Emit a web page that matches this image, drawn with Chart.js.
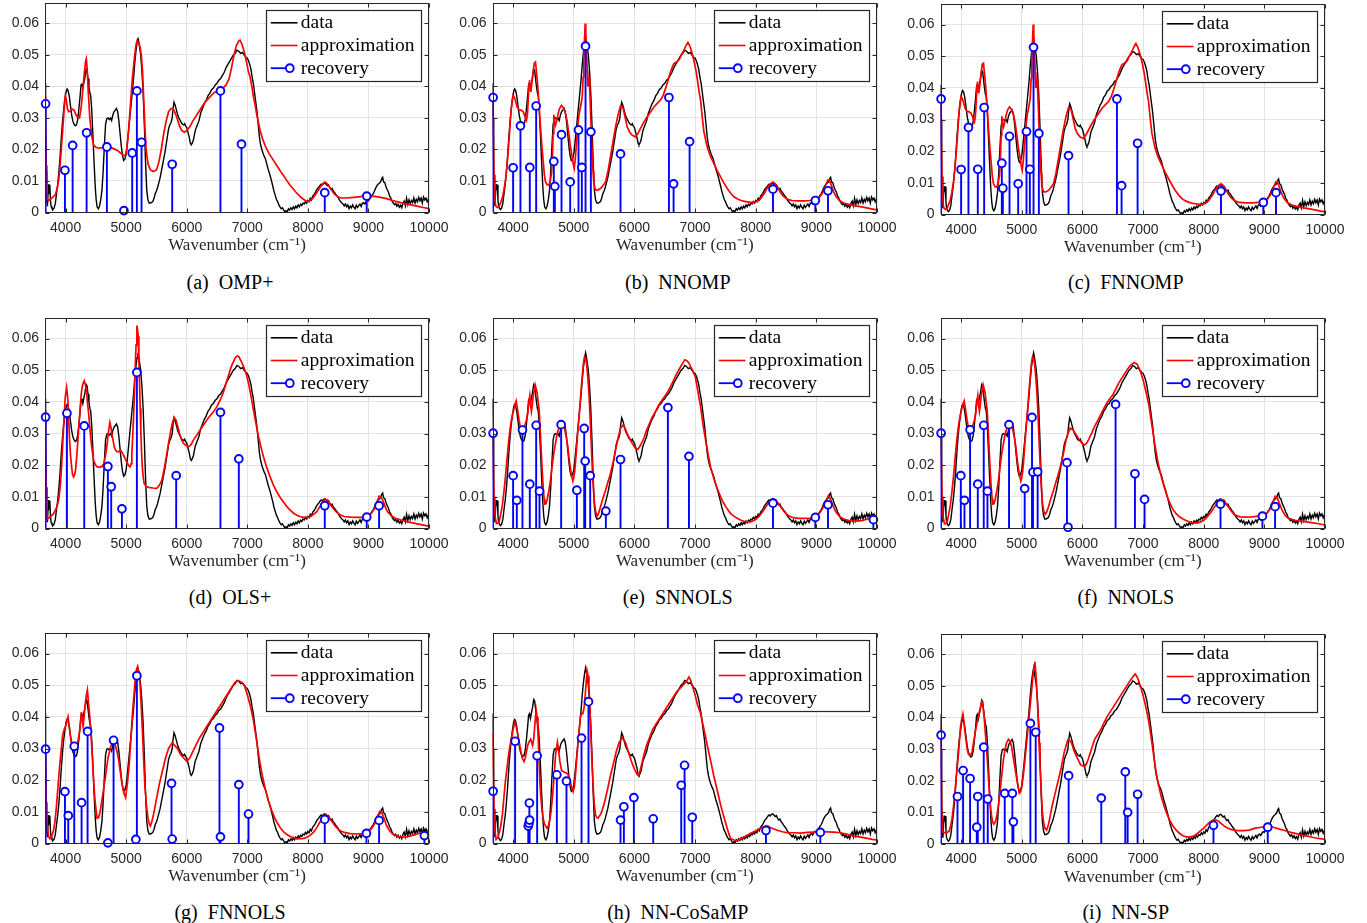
<!DOCTYPE html>
<html><head><meta charset="utf-8">
<script src="https://cdn.jsdelivr.net/npm/chart.js@4.4.0/dist/chart.umd.min.js"></script>
<style>
html,body{margin:0;padding:0;background:#fff;}
body{width:1367px;height:923px;position:relative;overflow:hidden;}
canvas{position:absolute;}
.cap{position:absolute;font-family:"Liberation Serif","Times New Roman",serif;font-size:20px;color:#000;white-space:pre;transform:translate(-50%,-50%);line-height:1;}
</style></head><body>
<script>
// ---------------- data ----------------
const xTicks = [4000,5000,6000,7000,8000,9000,10000];
const xTickLabels = ['4000','5000','6000','7000','8000','9000','10000'];
const yTicks = [0,0.01,0.02,0.03,0.04,0.05,0.06];
const yTickLabels = ['0','0.01','0.02','0.03','0.04','0.05','0.06'];
const xRange = [3660,10000];
const yRange = [0,0.0665];
const legendLabels = ['data','approximation','recovery'];
const xAxisTitle = 'Wavenumber (cm\u207B\u00B9)';
const panelCaptions = ['(a)  OMP+','(b)  NNOMP','(c)  FNNOMP','(d)  OLS+','(e)  SNNOLS','(f)  NNOLS','(g)  FNNOLS','(h)  NN-CoSaMP','(i)  NN-SP'];

const dataSpectrum = [[3660,0.041],[3670,0.030],[3680,0.013],[3690,0.004],[3700,0.002],[3710,0.006],[3720,0.009],[3730,0.0072],[3740,0.0088],[3750,0.004],[3760,0.002],[3775,0.0013],[3790,0.0009],[3810,0.0014],[3830,0.0028],[3850,0.006],[3870,0.009],[3890,0.013],[3910,0.018],[3930,0.024],[3950,0.029],[3970,0.033],[3990,0.036],[4010,0.0385],[4025,0.0392],[4040,0.0388],[4060,0.037],[4080,0.034],[4100,0.031],[4120,0.029],[4140,0.028],[4160,0.0275],[4180,0.0278],[4200,0.0295],[4220,0.033],[4240,0.037],[4255,0.0405],[4270,0.041],[4285,0.0395],[4300,0.041],[4320,0.043],[4340,0.0455],[4355,0.045],[4370,0.0425],[4385,0.040],[4400,0.038],[4415,0.037],[4430,0.033],[4450,0.025],[4470,0.016],[4490,0.008],[4505,0.004],[4520,0.0018],[4540,0.0012],[4560,0.002],[4580,0.004],[4600,0.007],[4620,0.013],[4640,0.021],[4660,0.028],[4680,0.0298],[4700,0.030],[4720,0.0295],[4740,0.030],[4760,0.0292],[4780,0.031],[4800,0.032],[4820,0.0325],[4840,0.033],[4860,0.032],[4880,0.029],[4900,0.025],[4920,0.021],[4940,0.018],[4960,0.0165],[4980,0.017],[5000,0.0185],[5020,0.022],[5040,0.026],[5060,0.030],[5080,0.034],[5100,0.038],[5120,0.042],[5140,0.047],[5160,0.051],[5180,0.054],[5195,0.0555],[5210,0.054],[5225,0.052],[5240,0.050],[5260,0.045],[5280,0.038],[5300,0.028],[5320,0.016],[5340,0.007],[5360,0.004],[5380,0.003],[5400,0.003],[5420,0.0032],[5440,0.0035],[5460,0.0045],[5480,0.006],[5500,0.0068],[5520,0.008],[5540,0.0095],[5560,0.011],[5580,0.013],[5600,0.015],[5620,0.017],[5640,0.019],[5660,0.0215],[5680,0.024],[5700,0.0265],[5720,0.0278],[5740,0.0285],[5760,0.030],[5775,0.033],[5790,0.035],[5810,0.034],[5830,0.0325],[5850,0.031],[5870,0.030],[5890,0.0293],[5910,0.0285],[5930,0.028],[5950,0.0278],[5965,0.0282],[5980,0.0275],[6000,0.027],[6020,0.0255],[6040,0.024],[6060,0.022],[6075,0.0215],[6090,0.022],[6110,0.023],[6140,0.026],[6170,0.0275],[6200,0.029],[6230,0.0315],[6260,0.033],[6290,0.0345],[6320,0.0355],[6350,0.037],[6380,0.0378],[6410,0.039],[6440,0.0395],[6470,0.0405],[6500,0.041],[6530,0.042],[6560,0.0425],[6590,0.0435],[6620,0.0445],[6650,0.046],[6680,0.047],[6710,0.048],[6740,0.049],[6770,0.050],[6800,0.0505],[6830,0.0515],[6860,0.0512],[6890,0.0505],[6920,0.0508],[6950,0.050],[6980,0.0492],[7000,0.049],[7020,0.0482],[7040,0.047],[7060,0.0455],[7080,0.043],[7100,0.041],[7120,0.038],[7140,0.035],[7160,0.032],[7180,0.028],[7200,0.024],[7220,0.0215],[7240,0.020],[7260,0.0188],[7280,0.0178],[7300,0.017],[7320,0.0155],[7340,0.014],[7360,0.0128],[7380,0.0115],[7400,0.010],[7420,0.0085],[7440,0.0068],[7460,0.0055],[7480,0.0042],[7500,0.0035],[7520,0.0025],[7540,0.0018],[7560,0.0012],[7580,0.0015],[7600,0.0008],[7620,0.0002],[7640,0.0006],[7660,0.0003],[7680,0.0012],[7700,0.0008],[7720,0.0015],[7740,0.001],[7760,0.0018],[7780,0.0012],[7800,0.002],[7820,0.0015],[7840,0.0024],[7860,0.0018],[7880,0.0026],[7900,0.0022],[7920,0.003],[7940,0.0027],[7960,0.0035],[7980,0.003],[8000,0.0038],[8020,0.0034],[8040,0.0045],[8060,0.004],[8080,0.0052],[8100,0.0056],[8120,0.0062],[8140,0.007],[8160,0.0076],[8180,0.008],[8200,0.0086],[8220,0.009],[8240,0.0087],[8260,0.0092],[8280,0.0094],[8300,0.009],[8320,0.0085],[8340,0.0088],[8360,0.008],[8380,0.0074],[8400,0.0077],[8420,0.0068],[8440,0.0064],[8460,0.0058],[8480,0.0053],[8500,0.0048],[8520,0.004],[8540,0.0035],[8560,0.003],[8580,0.0027],[8600,0.0021],[8620,0.0027],[8640,0.0018],[8660,0.0024],[8680,0.0012],[8700,0.002],[8720,0.0015],[8740,0.0024],[8760,0.0017],[8780,0.0012],[8800,0.0023],[8820,0.0016],[8840,0.0022],[8860,0.0027],[8880,0.0019],[8900,0.0029],[8920,0.0031],[8940,0.0027],[8960,0.0034],[8980,0.0039],[9000,0.0037],[9020,0.0044],[9040,0.0048],[9060,0.0054],[9080,0.006],[9100,0.0068],[9120,0.0078],[9140,0.0085],[9160,0.009],[9180,0.0093],[9200,0.0097],[9220,0.0108],[9235,0.0112],[9250,0.0097],[9270,0.0095],[9290,0.0082],[9310,0.0072],[9330,0.0065],[9350,0.0052],[9370,0.0046],[9390,0.0036],[9410,0.003],[9430,0.0025],[9450,0.0029],[9470,0.002],[9490,0.0026],[9510,0.0017],[9530,0.0023],[9550,0.0015],[9570,0.0029],[9590,0.0036],[9610,0.0021],[9630,0.0045],[9650,0.0025],[9670,0.004],[9690,0.0028],[9710,0.0038],[9730,0.0031],[9750,0.0046],[9770,0.003],[9790,0.0042],[9810,0.0034],[9830,0.0048],[9850,0.0037],[9870,0.0046],[9890,0.003],[9910,0.0049],[9930,0.004],[9950,0.0046],[9970,0.0034],[9990,0.0043],[10000,0.003]];

const approxOMPplus = [[3660,0.037],[3668,0.028],[3678,0.015],[3690,0.0065],[3700,0.0042],[3720,0.0038],[3770,0.0045],[3830,0.0056],[3860,0.0075],[3885,0.010],[3910,0.015],[3940,0.023],[3970,0.031],[3985,0.0355],[3995,0.037],[4010,0.036],[4030,0.033],[4050,0.032],[4080,0.0322],[4110,0.0328],[4140,0.0325],[4170,0.031],[4200,0.0302],[4230,0.030],[4255,0.033],[4280,0.038],[4310,0.0445],[4330,0.048],[4342,0.0488],[4355,0.046],[4375,0.038],[4400,0.030],[4430,0.0245],[4460,0.0215],[4500,0.0207],[4550,0.0204],[4600,0.0206],[4650,0.0209],[4700,0.021],[4750,0.0206],[4800,0.0202],[4850,0.0198],[4900,0.019],[4950,0.0182],[4985,0.018],[5010,0.020],[5040,0.026],[5070,0.034],[5100,0.042],[5130,0.048],[5160,0.053],[5180,0.0545],[5205,0.054],[5230,0.0525],[5250,0.050],[5270,0.045],[5290,0.036],[5310,0.027],[5330,0.020],[5360,0.0155],[5400,0.0135],[5450,0.013],[5500,0.0135],[5540,0.016],[5580,0.020],[5620,0.025],[5660,0.029],[5700,0.032],[5740,0.033],[5770,0.033],[5800,0.032],[5840,0.030],[5880,0.0275],[5920,0.026],[5960,0.0255],[6000,0.026],[6050,0.0272],[6100,0.029],[6150,0.0305],[6200,0.032],[6250,0.0335],[6300,0.035],[6350,0.036],[6400,0.037],[6450,0.038],[6500,0.0385],[6550,0.0388],[6600,0.0395],[6650,0.0405],[6700,0.0425],[6740,0.046],[6780,0.050],[6820,0.053],[6860,0.0545],[6880,0.0547],[6910,0.0535],[6950,0.051],[6990,0.0475],[7020,0.0445],[7047,0.043],[7075,0.040],[7102,0.0367],[7130,0.034],[7157,0.031],[7185,0.0285],[7212,0.026],[7250,0.0235],[7300,0.021],[7350,0.019],[7400,0.0175],[7450,0.016],[7500,0.0145],[7550,0.013],[7600,0.0117],[7650,0.0102],[7700,0.0088],[7750,0.0077],[7800,0.0065],[7850,0.0055],[7900,0.0046],[7950,0.0039],[7990,0.0035],[8030,0.0037],[8080,0.0045],[8130,0.0058],[8180,0.0073],[8230,0.0088],[8275,0.0096],[8300,0.0095],[8340,0.0086],[8390,0.0071],[8440,0.0058],[8500,0.0049],[8550,0.0046],[8600,0.0046],[8700,0.0047],[8800,0.0049],[8900,0.0051],[9000,0.0052],[9100,0.0051],[9200,0.0048],[9300,0.0044],[9400,0.0038],[9500,0.0033],[9600,0.0028],[9700,0.0024],[9800,0.002],[9900,0.0016],[10000,0.0012]];

const approxNNOMP = [[3660,0.0357],[3670,0.026],[3685,0.012],[3700,0.004],[3712,0.0022],[3740,0.0016],[3764,0.0018],[3790,0.003],[3819,0.0044],[3845,0.0068],[3874,0.0103],[3900,0.015],[3929,0.022],[3950,0.028],[3967,0.0325],[3985,0.0358],[4000,0.0372],[4022,0.0365],[4045,0.035],[4066,0.0335],[4095,0.0327],[4121,0.0325],[4145,0.0323],[4165,0.032],[4195,0.0305],[4220,0.0293],[4235,0.031],[4250,0.036],[4262,0.041],[4270,0.042],[4280,0.0395],[4292,0.0383],[4303,0.040],[4314,0.042],[4330,0.0448],[4350,0.0475],[4369,0.0478],[4388,0.044],[4407,0.040],[4430,0.0335],[4451,0.0272],[4475,0.021],[4495,0.0166],[4515,0.012],[4534,0.0097],[4560,0.0088],[4589,0.0087],[4612,0.010],[4633,0.0124],[4650,0.019],[4660,0.025],[4671,0.031],[4685,0.029],[4699,0.0277],[4718,0.029],[4737,0.031],[4765,0.033],[4798,0.034],[4830,0.0332],[4864,0.0314],[4890,0.029],[4919,0.025],[4945,0.021],[4974,0.0177],[4990,0.0155],[5007,0.014],[5025,0.017],[5040,0.0208],[5060,0.026],[5073,0.0288],[5090,0.0315],[5111,0.0335],[5125,0.035],[5139,0.0367],[5155,0.043],[5166,0.0484],[5178,0.055],[5188,0.060],[5198,0.057],[5210,0.0515],[5222,0.045],[5232,0.040],[5243,0.0415],[5254,0.043],[5265,0.038],[5276,0.0325],[5290,0.025],[5304,0.0187],[5318,0.013],[5331,0.0092],[5350,0.0076],[5370,0.0071],[5400,0.0072],[5441,0.0076],[5480,0.0085],[5524,0.0097],[5565,0.0132],[5606,0.0177],[5650,0.0228],[5689,0.0272],[5730,0.031],[5771,0.0338],[5795,0.0337],[5815,0.033],[5850,0.030],[5881,0.0272],[5920,0.0255],[5964,0.0245],[6019,0.024],[6060,0.0252],[6101,0.0267],[6150,0.0285],[6211,0.0304],[6270,0.032],[6321,0.0335],[6380,0.0347],[6431,0.0357],[6475,0.0372],[6514,0.0394],[6555,0.042],[6596,0.0447],[6625,0.0462],[6651,0.0473],[6690,0.0478],[6734,0.0484],[6775,0.050],[6816,0.0515],[6850,0.053],[6882,0.054],[6910,0.053],[6937,0.0515],[6965,0.0495],[6992,0.0473],[7020,0.0445],[7047,0.041],[7070,0.038],[7091,0.0357],[7120,0.030],[7146,0.0256],[7175,0.023],[7201,0.0208],[7250,0.018],[7311,0.0155],[7365,0.0133],[7421,0.0113],[7475,0.0094],[7531,0.0076],[7585,0.0062],[7641,0.005],[7700,0.0043],[7751,0.0039],[7800,0.0036],[7861,0.0034],[7920,0.0032],[7971,0.0032],[8030,0.0036],[8081,0.0044],[8140,0.006],[8191,0.0078],[8240,0.0091],[8285,0.0097],[8320,0.0092],[8360,0.008],[8400,0.0066],[8450,0.0053],[8500,0.0045],[8550,0.004],[8600,0.0038],[8700,0.0037],[8800,0.0037],[8900,0.0038],[8960,0.004],[9000,0.0042],[9050,0.0048],[9100,0.0062],[9150,0.0085],[9190,0.0103],[9210,0.0104],[9240,0.009],[9280,0.0068],[9320,0.0052],[9380,0.0038],[9450,0.003],[9550,0.0025],[9650,0.0021],[9750,0.0018],[9850,0.0014],[9950,0.001],[10000,0.0008]];

const approxFNNOMP = approxNNOMP;

const approxOLSplus = [[3660,0.0374],[3668,0.027],[3678,0.013],[3692,0.003],[3720,0.0033],[3747,0.0037],[3802,0.0047],[3857,0.0069],[3885,0.009],[3912,0.0132],[3935,0.020],[3956,0.028],[3975,0.035],[3995,0.0417],[4017,0.0445],[4038,0.0406],[4052,0.034],[4066,0.028],[4082,0.023],[4099,0.0195],[4115,0.017],[4132,0.0163],[4148,0.017],[4165,0.0185],[4185,0.023],[4204,0.028],[4222,0.033],[4242,0.0385],[4261,0.043],[4281,0.0454],[4308,0.0467],[4341,0.0443],[4360,0.040],[4380,0.0364],[4400,0.032],[4418,0.028],[4440,0.0245],[4462,0.0216],[4490,0.0202],[4517,0.0195],[4560,0.0193],[4600,0.0196],[4630,0.0205],[4655,0.0227],[4675,0.025],[4693,0.028],[4712,0.031],[4731,0.0335],[4748,0.032],[4764,0.030],[4783,0.028],[4803,0.0258],[4825,0.0248],[4847,0.0243],[4880,0.0243],[4913,0.0246],[4940,0.0238],[4968,0.0227],[4995,0.0215],[5023,0.0206],[5045,0.0198],[5067,0.0195],[5082,0.0205],[5094,0.0237],[5108,0.029],[5122,0.0353],[5137,0.043],[5150,0.0512],[5164,0.058],[5177,0.0641],[5190,0.0625],[5199,0.0607],[5210,0.053],[5221,0.0459],[5232,0.038],[5243,0.030],[5257,0.023],[5270,0.0185],[5284,0.0158],[5298,0.0142],[5330,0.0133],[5369,0.013],[5440,0.0128],[5507,0.0127],[5550,0.0137],[5590,0.0153],[5630,0.019],[5672,0.0237],[5705,0.0275],[5738,0.0311],[5765,0.0335],[5793,0.0351],[5826,0.0341],[5855,0.032],[5881,0.030],[5915,0.028],[5947,0.0269],[5990,0.0262],[6030,0.0258],[6070,0.0265],[6112,0.028],[6165,0.0295],[6222,0.0311],[6275,0.0327],[6332,0.0343],[6385,0.0356],[6442,0.0369],[6500,0.0385],[6552,0.0406],[6595,0.0425],[6634,0.0448],[6675,0.0475],[6717,0.0501],[6745,0.0516],[6772,0.0527],[6795,0.0537],[6816,0.0543],[6840,0.0545],[6860,0.0543],[6900,0.0528],[6937,0.0512],[6980,0.049],[7020,0.0459],[7060,0.042],[7102,0.0374],[7145,0.033],[7185,0.029],[7225,0.0258],[7267,0.0227],[7320,0.0193],[7377,0.0163],[7430,0.0138],[7487,0.0116],[7540,0.0099],[7597,0.0084],[7650,0.007],[7707,0.0058],[7760,0.0049],[7817,0.0042],[7870,0.0038],[7927,0.0035],[7980,0.0035],[8037,0.0037],[8090,0.0044],[8147,0.0053],[8200,0.007],[8250,0.0085],[8285,0.0093],[8320,0.009],[8360,0.008],[8400,0.0068],[8450,0.0056],[8500,0.0047],[8550,0.0042],[8600,0.0038],[8700,0.0036],[8800,0.0035],[8900,0.0035],[8960,0.0037],[9000,0.004],[9050,0.0048],[9100,0.0063],[9140,0.0083],[9175,0.0102],[9200,0.0101],[9240,0.0088],[9280,0.0067],[9320,0.0052],[9380,0.004],[9450,0.0032],[9550,0.0026],[9650,0.0021],[9750,0.0017],[9850,0.0013],[9950,0.0009],[10000,0.0007]];

const approxSNNOLS = [[3660,0.030],[3670,0.022],[3685,0.010],[3700,0.004],[3725,0.0016],[3764,0.0018],[3790,0.004],[3819,0.0069],[3845,0.011],[3874,0.0164],[3900,0.022],[3929,0.028],[3950,0.0315],[3967,0.0338],[3990,0.036],[4011,0.0375],[4030,0.039],[4050,0.0403],[4066,0.0385],[4082,0.0364],[4100,0.034],[4121,0.0317],[4154,0.0306],[4187,0.0322],[4215,0.034],[4242,0.0364],[4260,0.040],[4275,0.042],[4288,0.039],[4302,0.037],[4316,0.039],[4330,0.0417],[4363,0.0454],[4396,0.0428],[4412,0.040],[4429,0.0375],[4445,0.032],[4462,0.0248],[4478,0.019],[4495,0.0132],[4510,0.0095],[4523,0.0077],[4540,0.0078],[4561,0.009],[4590,0.012],[4616,0.0153],[4645,0.020],[4671,0.0238],[4700,0.027],[4726,0.030],[4760,0.032],[4792,0.033],[4820,0.0325],[4847,0.0317],[4875,0.029],[4902,0.0259],[4930,0.021],[4957,0.0174],[4985,0.015],[5000,0.016],[5018,0.0185],[5037,0.023],[5056,0.028],[5078,0.033],[5100,0.0385],[5120,0.0435],[5139,0.048],[5158,0.052],[5177,0.0542],[5195,0.0535],[5210,0.0523],[5227,0.049],[5243,0.0449],[5260,0.039],[5276,0.0322],[5292,0.025],[5309,0.0174],[5325,0.012],[5342,0.0079],[5362,0.0052],[5386,0.0039],[5410,0.0048],[5441,0.0069],[5480,0.0095],[5524,0.0121],[5565,0.0148],[5606,0.0174],[5650,0.021],[5689,0.0248],[5730,0.0285],[5771,0.0317],[5815,0.0327],[5850,0.0315],[5881,0.030],[5920,0.0285],[5964,0.0269],[6010,0.0255],[6057,0.025],[6100,0.0263],[6156,0.0285],[6200,0.031],[6238,0.0327],[6290,0.035],[6349,0.037],[6400,0.039],[6459,0.0407],[6510,0.042],[6552,0.0433],[6600,0.045],[6651,0.047],[6700,0.049],[6750,0.0507],[6790,0.052],[6832,0.0533],[6865,0.053],[6899,0.0523],[6930,0.051],[6954,0.0502],[6980,0.049],[7003,0.048],[7050,0.043],[7091,0.0385],[7130,0.033],[7173,0.028],[7215,0.0235],[7255,0.0195],[7310,0.0158],[7364,0.0127],[7420,0.0101],[7474,0.0079],[7530,0.0062],[7584,0.0048],[7640,0.0039],[7694,0.0032],[7750,0.0027],[7804,0.0023],[7860,0.0021],[7914,0.0021],[7970,0.0025],[8024,0.0032],[8080,0.0044],[8134,0.0058],[8190,0.0075],[8240,0.0088],[8285,0.0094],[8330,0.009],[8370,0.008],[8420,0.0066],[8470,0.0053],[8530,0.0042],[8600,0.0035],[8700,0.0032],[8800,0.0032],[8900,0.0033],[8960,0.0036],[9000,0.004],[9050,0.0048],[9100,0.0062],[9150,0.0085],[9200,0.0104],[9240,0.009],[9280,0.007],[9320,0.0053],[9380,0.0038],[9450,0.003],[9550,0.0024],[9650,0.0023],[9750,0.0025],[9850,0.003],[9950,0.0035],[10000,0.0036]];

const approxNNOLS = [[3660,0.030],[3670,0.022],[3685,0.010],[3700,0.004],[3725,0.0015],[3764,0.0016],[3790,0.004],[3819,0.0069],[3845,0.011],[3874,0.0164],[3900,0.022],[3929,0.028],[3950,0.0315],[3967,0.0338],[3990,0.0362],[4011,0.038],[4030,0.0392],[4050,0.0403],[4066,0.0385],[4082,0.0364],[4100,0.034],[4121,0.0317],[4154,0.0306],[4187,0.0322],[4215,0.034],[4242,0.0364],[4260,0.040],[4275,0.042],[4288,0.039],[4302,0.037],[4316,0.039],[4330,0.0417],[4363,0.0454],[4396,0.0428],[4412,0.040],[4429,0.0375],[4445,0.032],[4462,0.0248],[4478,0.019],[4495,0.0132],[4510,0.0095],[4523,0.0077],[4540,0.0078],[4561,0.009],[4590,0.012],[4616,0.0153],[4645,0.020],[4671,0.0238],[4700,0.027],[4726,0.030],[4760,0.032],[4792,0.033],[4820,0.0325],[4847,0.0317],[4875,0.029],[4902,0.0259],[4930,0.021],[4957,0.0174],[4985,0.015],[5000,0.016],[5018,0.0185],[5037,0.023],[5056,0.028],[5078,0.033],[5100,0.0385],[5120,0.0435],[5139,0.048],[5158,0.052],[5177,0.0542],[5195,0.0535],[5210,0.0523],[5227,0.049],[5243,0.0449],[5260,0.039],[5276,0.0322],[5292,0.025],[5309,0.0174],[5325,0.012],[5342,0.0079],[5362,0.0055],[5386,0.0045],[5410,0.0052],[5441,0.0069],[5480,0.0095],[5524,0.0121],[5565,0.0148],[5606,0.0174],[5650,0.0205],[5690,0.024],[5730,0.028],[5760,0.030],[5800,0.0317],[5850,0.031],[5900,0.0295],[5950,0.028],[5990,0.027],[6030,0.0264],[6065,0.0268],[6100,0.028],[6150,0.030],[6200,0.0322],[6250,0.034],[6300,0.0359],[6350,0.0378],[6400,0.0396],[6450,0.041],[6500,0.0422],[6550,0.044],[6600,0.046],[6650,0.0475],[6700,0.049],[6750,0.0505],[6800,0.0517],[6850,0.0524],[6900,0.052],[6950,0.050],[7000,0.047],[7050,0.043],[7100,0.0385],[7150,0.032],[7200,0.0259],[7250,0.0205],[7300,0.0164],[7350,0.013],[7400,0.010],[7450,0.0077],[7500,0.0058],[7550,0.0046],[7600,0.0037],[7650,0.0031],[7700,0.0026],[7750,0.0022],[7800,0.0019],[7850,0.0018],[7900,0.0018],[7950,0.0021],[8000,0.0026],[8050,0.0035],[8100,0.0047],[8150,0.006],[8200,0.0074],[8250,0.0087],[8280,0.0092],[8320,0.009],[8360,0.0081],[8410,0.0067],[8460,0.0054],[8500,0.0045],[8550,0.004],[8600,0.0037],[8700,0.0036],[8800,0.0037],[8900,0.0039],[8960,0.0042],[9000,0.0045],[9050,0.005],[9100,0.0063],[9140,0.0083],[9180,0.0102],[9210,0.0098],[9250,0.0078],[9300,0.0055],[9350,0.004],[9400,0.0032],[9500,0.0026],[9600,0.0023],[9700,0.0021],[9800,0.0018],[9900,0.0015],[10000,0.0011]];

const approxFNNOLS = [[3660,0.030],[3670,0.022],[3685,0.010],[3700,0.005],[3720,0.0022],[3740,0.0015],[3770,0.0022],[3800,0.004],[3825,0.007],[3850,0.012],[3875,0.018],[3900,0.024],[3925,0.029],[3950,0.034],[3975,0.036],[4000,0.037],[4020,0.0385],[4040,0.040],[4060,0.037],[4080,0.034],[4100,0.032],[4120,0.031],[4150,0.030],[4180,0.0308],[4200,0.032],[4220,0.034],[4240,0.037],[4260,0.0415],[4275,0.039],[4290,0.037],[4310,0.041],[4330,0.045],[4345,0.047],[4360,0.0485],[4380,0.044],[4400,0.040],[4420,0.034],[4440,0.028],[4460,0.021],[4480,0.015],[4500,0.011],[4520,0.008],[4545,0.0082],[4570,0.010],[4610,0.015],[4650,0.020],[4700,0.027],[4750,0.031],[4790,0.032],[4820,0.031],[4850,0.029],[4880,0.026],[4900,0.023],[4930,0.019],[4960,0.016],[4990,0.0145],[5020,0.019],[5050,0.025],[5075,0.032],[5100,0.040],[5125,0.046],[5150,0.052],[5170,0.055],[5190,0.056],[5210,0.054],[5230,0.050],[5250,0.043],[5270,0.035],[5290,0.026],[5310,0.018],[5335,0.012],[5360,0.008],[5385,0.006],[5400,0.0055],[5425,0.007],[5450,0.009],[5475,0.0115],[5500,0.014],[5550,0.019],[5600,0.023],[5650,0.027],[5700,0.030],[5730,0.031],[5760,0.0318],[5800,0.031],[5850,0.030],[5900,0.028],[5950,0.027],[6000,0.026],[6050,0.027],[6100,0.029],[6150,0.031],[6200,0.033],[6250,0.0345],[6300,0.036],[6350,0.0375],[6400,0.039],[6450,0.0405],[6500,0.042],[6550,0.0435],[6600,0.045],[6650,0.0465],[6700,0.048],[6750,0.0495],[6800,0.051],[6850,0.0515],[6900,0.051],[6950,0.050],[7000,0.0471],[7050,0.0435],[7100,0.039],[7150,0.033],[7200,0.0265],[7250,0.0213],[7300,0.017],[7350,0.0135],[7400,0.0106],[7450,0.0082],[7500,0.0063],[7550,0.0048],[7600,0.0037],[7650,0.0029],[7700,0.0023],[7750,0.0019],[7800,0.0016],[7850,0.0015],[7900,0.0015],[7950,0.0017],[8000,0.0021],[8050,0.0028],[8100,0.0037],[8150,0.0051],[8200,0.0068],[8250,0.0085],[8285,0.0092],[8320,0.0089],[8360,0.008],[8410,0.0066],[8460,0.0053],[8520,0.0042],[8600,0.0035],[8700,0.0031],[8800,0.003],[8900,0.0031],[8960,0.0034],[9000,0.0038],[9050,0.0047],[9100,0.0062],[9150,0.0086],[9190,0.0102],[9220,0.0098],[9260,0.0078],[9300,0.0056],[9350,0.004],[9400,0.003],[9500,0.0022],[9600,0.002],[9700,0.0024],[9800,0.003],[9900,0.0035],[10000,0.0038]];

const approxNNCoSaMP = [[3660,0.035],[3670,0.025],[3685,0.011],[3700,0.004],[3720,0.0013],[3750,0.002],[3780,0.004],[3800,0.006],[3825,0.0095],[3850,0.015],[3875,0.020],[3900,0.024],[3925,0.028],[3950,0.031],[3975,0.0335],[4000,0.036],[4030,0.0384],[4050,0.037],[4070,0.035],[4095,0.0325],[4120,0.030],[4150,0.027],[4180,0.0259],[4200,0.027],[4220,0.029],[4240,0.031],[4260,0.032],[4290,0.033],[4320,0.031],[4340,0.033],[4360,0.038],[4380,0.0421],[4395,0.040],[4410,0.035],[4425,0.028],[4440,0.020],[4460,0.014],[4480,0.010],[4500,0.0075],[4520,0.006],[4560,0.0048],[4580,0.0055],[4600,0.007],[4625,0.010],[4650,0.015],[4675,0.021],[4700,0.028],[4730,0.032],[4750,0.0295],[4770,0.026],[4800,0.023],[4850,0.0225],[4900,0.022],[4930,0.0205],[4960,0.018],[4990,0.0164],[5010,0.018],[5030,0.022],[5050,0.027],[5070,0.032],[5090,0.036],[5110,0.040],[5130,0.041],[5150,0.041],[5170,0.043],[5190,0.047],[5205,0.051],[5220,0.0545],[5235,0.053],[5250,0.050],[5265,0.043],[5280,0.035],[5300,0.026],[5320,0.018],[5340,0.012],[5360,0.009],[5380,0.0082],[5400,0.008],[5450,0.0095],[5500,0.0125],[5550,0.0165],[5600,0.021],[5650,0.025],[5700,0.029],[5750,0.032],[5800,0.0335],[5850,0.032],[5900,0.029],[5950,0.026],[6000,0.0235],[6050,0.0217],[6080,0.022],[6100,0.0235],[6150,0.0275],[6200,0.031],[6250,0.0335],[6300,0.036],[6350,0.0375],[6400,0.039],[6450,0.0405],[6500,0.042],[6550,0.0435],[6600,0.045],[6650,0.0465],[6700,0.048],[6750,0.049],[6800,0.050],[6850,0.051],[6900,0.0526],[6930,0.0515],[6960,0.0495],[7000,0.047],[7044,0.0435],[7088,0.0413],[7130,0.0375],[7171,0.0339],[7212,0.030],[7253,0.0265],[7308,0.0215],[7363,0.017],[7418,0.0125],[7473,0.0085],[7515,0.0058],[7555,0.0032],[7585,0.0016],[7640,0.0011],[7695,0.0008],[7750,0.0014],[7805,0.002],[7860,0.0026],[7915,0.0032],[7970,0.0037],[8025,0.0043],[8080,0.0048],[8125,0.0052],[8169,0.0056],[8210,0.0054],[8246,0.005],[8300,0.0046],[8356,0.0042],[8440,0.0037],[8521,0.0034],[8630,0.0034],[8741,0.0033],[8850,0.0035],[8961,0.0036],[9070,0.0037],[9181,0.0037],[9290,0.0036],[9401,0.0034],[9510,0.0029],[9621,0.0023],[9730,0.002],[9841,0.0016],[9920,0.0013],[10000,0.0011]];

const approxNNSP = [[3660,0.037],[3668,0.028],[3680,0.012],[3692,0.0045],[3700,0.0037],[3750,0.0035],[3800,0.004],[3825,0.0055],[3850,0.008],[3875,0.012],[3900,0.017],[3925,0.022],[3950,0.027],[3970,0.032],[3990,0.037],[4010,0.0395],[4030,0.0411],[4045,0.039],[4060,0.036],[4080,0.033],[4100,0.030],[4120,0.0285],[4140,0.028],[4160,0.0283],[4180,0.029],[4205,0.032],[4230,0.035],[4255,0.0375],[4280,0.040],[4310,0.0425],[4340,0.045],[4360,0.0435],[4380,0.040],[4400,0.035],[4420,0.030],[4440,0.024],[4460,0.018],[4480,0.013],[4500,0.009],[4520,0.007],[4540,0.0063],[4565,0.007],[4590,0.009],[4620,0.013],[4650,0.018],[4675,0.0225],[4700,0.027],[4725,0.030],[4750,0.032],[4780,0.0331],[4805,0.0325],[4830,0.031],[4855,0.028],[4880,0.025],[4905,0.022],[4930,0.019],[4960,0.016],[4980,0.0165],[5000,0.018],[5025,0.0215],[5050,0.026],[5075,0.031],[5100,0.036],[5125,0.041],[5150,0.046],[5170,0.050],[5190,0.054],[5205,0.0565],[5215,0.0576],[5228,0.055],[5240,0.052],[5255,0.046],[5270,0.040],[5285,0.032],[5300,0.025],[5320,0.017],[5340,0.010],[5360,0.0068],[5380,0.005],[5410,0.0044],[5430,0.0055],[5450,0.007],[5475,0.0095],[5500,0.012],[5550,0.016],[5600,0.020],[5650,0.024],[5700,0.029],[5730,0.031],[5760,0.0329],[5790,0.0327],[5820,0.032],[5845,0.0305],[5870,0.029],[5895,0.028],[5920,0.027],[5945,0.026],[5970,0.025],[6000,0.0247],[6040,0.0245],[6070,0.0255],[6100,0.027],[6150,0.030],[6200,0.033],[6250,0.0345],[6300,0.036],[6350,0.038],[6400,0.040],[6450,0.0415],[6500,0.043],[6550,0.0445],[6600,0.046],[6650,0.0475],[6700,0.049],[6750,0.0505],[6800,0.052],[6840,0.053],[6870,0.0537],[6895,0.053],[6920,0.052],[6945,0.0505],[6970,0.049],[7000,0.047],[7050,0.043],[7100,0.038],[7150,0.0315],[7200,0.0245],[7250,0.019],[7300,0.015],[7350,0.0118],[7400,0.0092],[7450,0.0071],[7500,0.0055],[7550,0.0043],[7600,0.0034],[7650,0.0027],[7700,0.0023],[7750,0.0022],[7800,0.0023],[7850,0.0027],[7900,0.0034],[7950,0.0042],[8000,0.005],[8050,0.006],[8100,0.0069],[8140,0.0074],[8180,0.0076],[8215,0.0075],[8250,0.0071],[8300,0.0063],[8350,0.0055],[8400,0.005],[8450,0.0046],[8550,0.0042],[8650,0.0042],[8750,0.0044],[8850,0.005],[8950,0.0053],[9050,0.0055],[9150,0.0053],[9250,0.0047],[9350,0.0042],[9450,0.0036],[9550,0.0032],[9650,0.0027],[9750,0.0023],[9850,0.0019],[9950,0.0016],[10000,0.0015]];

const recoveryOMPplus = [[3670,0.0345],[3989,0.0134],[4116,0.0213],[4347,0.0253],[4682,0.0208],[4963,0.0006],[5100,0.0189],[5177,0.0386],[5254,0.0223],[5760,0.0153],[6557,0.0386],[6904,0.0217],[8279,0.0063],[8972,0.0052]];
const recoveryNNOMP = [[3670,0.0365],[4000,0.0142],[4121,0.0275],[4275,0.0143],[4380,0.0338],[4671,0.0162],[4688,0.0083],[4798,0.0247],[4941,0.0097],[5078,0.0262],[5133,0.0143],[5194,0.0528],[5282,0.0256],[5771,0.0186],[6569,0.0365],[6646,0.0091],[6910,0.0225],[8285,0.0074],[8983,0.0038],[9192,0.0069]];
const recoveryFNNOMP = recoveryNNOMP;
const recoveryOLSplus = [[3670,0.0352],[4022,0.0364],[4308,0.0324],[4698,0.0196],[4753,0.0132],[4930,0.0062],[5177,0.0493],[5826,0.0167],[6557,0.0367],[6860,0.0220],[8279,0.0072],[8972,0.0036],[9176,0.0072]];
const recoverySNNOLS = [[3670,0.0301],[4000,0.0167],[4061,0.0089],[4154,0.0311],[4275,0.0140],[4380,0.0326],[4435,0.0118],[4792,0.0328],[5051,0.0121],[5172,0.0316],[5188,0.0213],[5271,0.0167],[5529,0.0055],[5771,0.0218],[6552,0.0382],[6899,0.0228],[8285,0.0080],[8983,0.0035],[9192,0.0075],[9940,0.0028]];
const recoveryNNOLS = [[3670,0.0301],[3995,0.0167],[4055,0.0089],[4148,0.0312],[4275,0.0140],[4373,0.0326],[4434,0.0118],[4790,0.0328],[5048,0.0126],[5169,0.0351],[5185,0.0178],[5262,0.0179],[5745,0.0208],[5762,0.0004],[6547,0.0392],[6866,0.0173],[7025,0.0092],[8277,0.0077],[8968,0.0039],[9177,0.0069]];
const recoveryFNNOLS = [[3670,0.0298],[3989,0.0164],[4044,0.0088],[4143,0.0307],[4264,0.0129],[4363,0.0354],[4698,0.0002],[4792,0.0326],[5160,0.0013],[5177,0.0530],[5749,0.0190],[5760,0.0014],[6541,0.0365],[6557,0.0021],[6860,0.0186],[7020,0.0093],[8279,0.0076],[8967,0.0032],[9176,0.0073],[9924,0.0025]];
const recoveryNNCoSaMP = [[3670,0.0165],[4033,0.0323],[4250,0.0055],[4262,0.0064],[4268,0.0128],[4272,0.0074],[4396,0.0277],[4721,0.0217],[4880,0.0197],[5128,0.0333],[5243,0.0448],[5771,0.0074],[5826,0.0116],[5991,0.0145],[6310,0.0078],[6772,0.0184],[6827,0.0247],[6954,0.0083],[8169,0.0041],[9066,0.0035]];
const recoveryNNSP = [[3670,0.0344],[3940,0.0150],[4033,0.0232],[4148,0.0207],[4258,0.0053],[4275,0.0150],[4373,0.0306],[4439,0.0142],[4719,0.0160],[4845,0.0160],[4862,0.0070],[5142,0.0381],[5230,0.0353],[5773,0.0216],[6311,0.0145],[6707,0.0228],[6746,0.0100],[6910,0.0157],[8161,0.0059],[9056,0.0053]];

// ---------------- layout (pixel geometry of each plot box) ----------------
const panelGeom = [
  {l:45,t:3,r:429,b:212.5},{l:492.5,t:3,r:877,b:212.5},{l:940.5,t:4,r:1325,b:214.5},
  {l:45,t:318,r:429,b:528.5},{l:492.5,t:318,r:877,b:528.5},{l:940.5,t:318,r:1325,b:528.5},
  {l:45,t:633,r:429,b:843.5},{l:492.5,t:633,r:877,b:843.5},{l:940.5,t:633.5,r:1325,b:844}
];
const captionRowY = [281.5,596.5,911.5];

const approxList = [approxOMPplus,approxNNOMP,approxFNNOMP,approxOLSplus,approxSNNOLS,approxNNOLS,approxFNNOLS,approxNNCoSaMP,approxNNSP];
const recoveryList = [recoveryOMPplus,recoveryNNOMP,recoveryFNNOMP,recoveryOLSplus,recoverySNNOLS,recoveryNNOLS,recoveryFNNOLS,recoveryNNCoSaMP,recoveryNNSP];

const SANS = "'Liberation Sans', Arial, Helvetica, sans-serif";
const SERIF = "'Liberation Serif', 'Times New Roman', serif";
const AXC = '#262626';

const boxPlugin = {
  id: 'matlabBox',
  afterDatasetsDraw(chart) {
    const {ctx, chartArea: a, scales: {x, y}} = chart;
    ctx.save();
    ctx.strokeStyle = AXC; ctx.lineWidth = 1;
    const tl = 4;
    const L = Math.round(a.left) + 0.5, R = Math.round(a.right) - 0.5;
    const T = Math.round(a.top) + 0.5, B = Math.round(a.bottom) - 0.5;
    ctx.beginPath();
    xTicks.forEach(v => {
      const px = Math.round(x.getPixelForValue(v)) + 0.5;
      ctx.moveTo(px, B); ctx.lineTo(px, B - tl);
      ctx.moveTo(px, T); ctx.lineTo(px, T + tl);
    });
    yTicks.forEach(v => {
      const py = Math.round(y.getPixelForValue(v)) + 0.5;
      ctx.moveTo(L, py); ctx.lineTo(L + tl, py);
      ctx.moveTo(R, py); ctx.lineTo(R - tl, py);
    });
    ctx.stroke();
    ctx.strokeRect(L, T, R - L, B - T);
    ctx.restore();
  }
};

const legendPlugin = {
  id: 'matlabLegend',
  afterDraw(chart) {
    const {ctx, chartArea: a} = chart;
    const w = 155, h = 71;
    const bx = Math.round(a.right - 7.7 - w) + 0.5, by = Math.round(a.top + 7) + 0.5;
    ctx.save();
    ctx.fillStyle = '#fff';
    ctx.fillRect(bx, by, w, h);
    ctx.strokeStyle = AXC; ctx.lineWidth = 1.2;
    ctx.strokeRect(bx, by, w, h);
    const rows = [12.3, 35, 57.7];
    const cols = ['#000000', '#ff0000', '#0000ff'];
    ctx.font = '19.5px ' + SERIF;
    ctx.textBaseline = 'middle';
    legendLabels.forEach((t, k) => {
      const yy = by + rows[k];
      ctx.strokeStyle = cols[k];
      ctx.lineWidth = k === 2 ? 1.8 : 1.6;
      ctx.beginPath();
      ctx.moveTo(bx + 4.3, yy);
      ctx.lineTo(bx + (k === 2 ? 19.5 : 31), yy);
      ctx.stroke();
      if (k === 2) {
        ctx.beginPath();
        ctx.lineWidth = 1.9;
        ctx.fillStyle = '#fff';
        ctx.arc(bx + 23.3, yy, 3.9, 0, Math.PI * 2);
        ctx.fill();
        ctx.stroke();
      }
      ctx.fillStyle = '#000';
      ctx.fillText(t, bx + 34.3, yy + 0.5);
    });
    ctx.restore();
  }
};

function toXY(arr) { return arr.map(p => ({x: p[0], y: p[1]})); }
function toStems(arr) {
  const out = [];
  arr.forEach(p => { out.push({x: p[0], y: 0}, {x: p[0], y: p[1]}, {x: p[0], y: null}); });
  return out;
}

panelGeom.forEach((g, i) => {
  const cl = Math.floor(g.l) - 46;
  const ct = Math.floor(g.t) - 18;
  const cr = Math.ceil(g.r) + 34;
  const cb = Math.ceil(g.b + 43.5);
  const cw = cr - cl, ch = cb - ct;
  const yW = g.l - cl, padT = g.t - ct, padR = cr - g.r, xH = cb - g.b;

  const canvas = document.createElement('canvas');
  canvas.width = cw; canvas.height = ch;
  canvas.style.left = cl + 'px'; canvas.style.top = ct + 'px';
  canvas.style.width = cw + 'px'; canvas.style.height = ch + 'px';
  document.body.appendChild(canvas);

  new Chart(canvas, {
    type: 'line',
    data: {
      datasets: [
        {label: 'recovery markers', data: toXY(recoveryList[i]), showLine: false, pointStyle: 'circle',
         pointRadius: 3.9, pointBorderWidth: 1.9, pointBorderColor: '#0000ff',
         pointBackgroundColor: '#ffffff', order: 0, clip: false},
        {label: legendLabels[2], data: toStems(recoveryList[i]), borderColor: '#0000ff', borderWidth: 1.9,
         pointRadius: 0, spanGaps: false, order: 1},
        {label: legendLabels[1], data: toXY(approxList[i]), borderColor: '#ff0000', borderWidth: 1.7,
         pointRadius: 0, tension: 0, order: 2},
        {label: legendLabels[0], data: toXY(dataSpectrum), borderColor: '#000000', borderWidth: 1.4,
         pointRadius: 0, tension: 0, order: 3}
      ]
    },
    options: {
      responsive: false, animation: false, events: [], devicePixelRatio: 1,
      layout: {padding: {left: 0, top: padT, right: padR, bottom: 0}},
      plugins: {legend: {display: false}, tooltip: {enabled: false}},
      scales: {
        x: {
          type: 'linear', min: xRange[0], max: xRange[1],
          afterBuildTicks: s => { s.ticks = xTicks.map(v => ({value: v})); },
          afterFit: s => { s.height = xH; },
          ticks: {callback: (v, k) => xTickLabels[k], font: {family: SANS, size: 14}, color: AXC,
                  padding: 7, maxRotation: 0, minRotation: 0, autoSkip: false},
          grid: {color: '#e3e3e3', lineWidth: 1, drawTicks: false},
          border: {display: false},
          title: {display: true, text: xAxisTitle, font: {family: SERIF, size: 17}, color: AXC, padding: 0}
        },
        y: {
          type: 'linear', min: yRange[0], max: yRange[1],
          afterBuildTicks: s => { s.ticks = yTicks.map(v => ({value: v})); },
          afterFit: s => { s.width = yW; },
          ticks: {callback: (v, k) => yTickLabels[k], font: {family: SANS, size: 14}, color: AXC,
                  padding: 6, autoSkip: false},
          grid: {color: '#e3e3e3', lineWidth: 1, drawTicks: false},
          border: {display: false}
        }
      }
    },
    plugins: [boxPlugin, legendPlugin]
  });

  const cap = document.createElement('div');
  cap.className = 'cap';
  cap.textContent = panelCaptions[i];
  cap.style.left = ((g.l + g.r) / 2 - 7) + 'px';
  cap.style.top = captionRowY[Math.floor(i / 3)] + 'px';
  document.body.appendChild(cap);
});
</script>
</body></html>
